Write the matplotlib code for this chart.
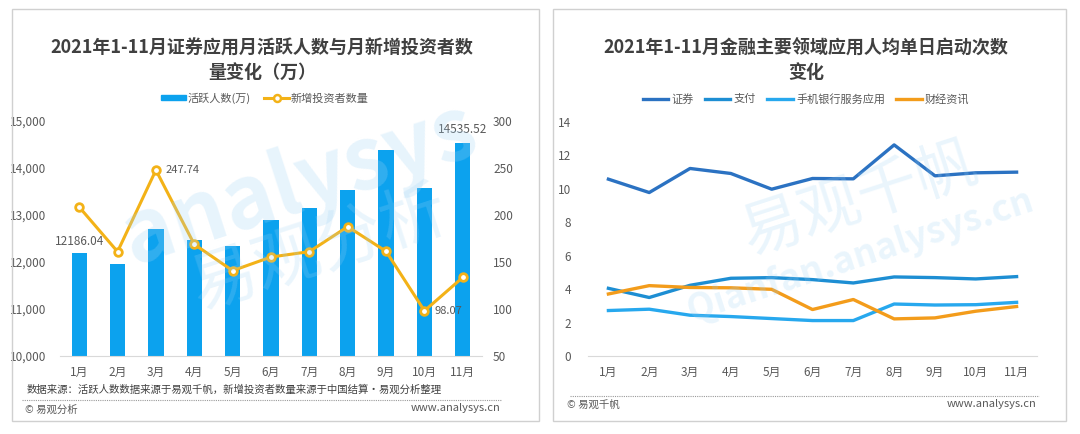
#!/usr/bin/env python
"""Two panel chart: securities app MAU vs new investors, and daily launches per user."""

import matplotlib
matplotlib.use("Agg")
import matplotlib.pyplot as plt
from matplotlib.patches import Rectangle
from matplotlib.lines import Line2D

plt.rcParams['font.family'] = ['Noto Sans CJK SC', 'DejaVu Sans']

months = ["1月", "2月", "3月", "4月", "5月", "6月", "7月", "8月", "9月", "10月", "11月"]

# left panel
active_users = [12186.04, 11960, 12700, 12470, 12340, 12890, 13150, 13530, 14380, 13570, 14535.52]
new_investors = [208.5, 161, 247.74, 168.8, 140.8, 155.3, 161, 187.6, 161.3, 98.07, 133.7]

# right panel
launch_series = {
    "证券": [10.58, 9.78, 11.22, 10.92, 9.98, 10.62, 10.6, 12.63, 10.78, 10.96, 11.0],
    "支付": [4.05, 3.5, 4.23, 4.65, 4.69, 4.57, 4.37, 4.73, 4.69, 4.61, 4.75],
    "手机银行服务应用": [2.72, 2.8, 2.44, 2.36, 2.24, 2.12, 2.12, 3.11, 3.05, 3.07, 3.21],
    "财经资讯": [3.71, 4.21, 4.1, 4.08, 3.99, 2.78, 3.38, 2.22, 2.28, 2.68, 2.96],
}
launch_colors = ["#2B72C2", "#1D8ED3", "#27A8EE", "#F39C1B"]

W, H = 1080, 434
TXT = "#595959"
BAR = "#0CA2EE"
GOLD = "#F3B217"


def fx(px):
    return px / W


def fy(py):
    return 1 - py / H


fig = plt.figure(figsize=(W / 100, H / 100), dpi=100)

# panel frames
for x0, x1 in [(12, 539), (553, 1066)]:
    fig.patches.append(Rectangle((fx(x0), fy(421)), fx(x1 - x0), (421 - 9) / H,
                                 transform=fig.transFigure, fill=False,
                                 edgecolor="#d0d0d0", linewidth=1.0))

# ---------------- left panel ----------------
ax = fig.add_axes([fx(60), fy(356), fx(422), 235 / H])
x = list(range(len(months)))
ax.bar(x, active_users, width=0.4, color=BAR, zorder=2, label="活跃人数(万)")
ax.set_ylim(10000, 15000)
ax.set_xlim(-0.5, len(months) - 0.5)
ax.set_yticks([10000, 11000, 12000, 13000, 14000, 15000])
ax.set_yticklabels([f"{v:,}" for v in [10000, 11000, 12000, 13000, 14000, 15000]])
ax.set_xticks(x)
ax.set_xticklabels(months)
for s in ["top", "left", "right"]:
    ax.spines[s].set_visible(False)
ax.spines["bottom"].set_color("#d9d9d9")
ax.tick_params(axis="both", length=0, labelsize=8.5, colors=TXT)
ax.tick_params(axis="y", pad=10)
ax.tick_params(axis="x", pad=7)
ax.patch.set_alpha(0)

ax2 = ax.twinx()
ax2.plot(x, new_investors, color=GOLD, linewidth=2.2, marker="o", markersize=5.5,
         markerfacecolor="white", markeredgecolor=GOLD, markeredgewidth=2, zorder=3,
         label="新增投资者数量")
ax2.set_ylim(50, 300)
ax2.set_yticks([50, 100, 150, 200, 250, 300])
for s in ["top", "left", "right", "bottom"]:
    ax2.spines[s].set_visible(False)
ax2.tick_params(axis="y", length=0, labelsize=8.5, colors=TXT, pad=8)

ax.annotate(f"{active_users[0]:.2f}", (0, active_users[0]), xytext=(0, 4),
            textcoords="offset points", ha="center", va="bottom", fontsize=8.5, color=TXT)
ax.annotate(f"{active_users[-1]:.2f}", (10, active_users[-1]), xytext=(0, 5),
            textcoords="offset points", ha="center", va="bottom", fontsize=8.5, color=TXT)
ax2.annotate(f"{new_investors[2]:.2f}", (2, new_investors[2]), xytext=(7, 0),
             textcoords="offset points", ha="left", va="center", fontsize=8, color=TXT)
ax2.annotate(f"{new_investors[9]:.2f}", (9, new_investors[9]), xytext=(7, 0),
             textcoords="offset points", ha="left", va="center", fontsize=8, color=TXT)

handles = [Rectangle((0, 0), 1, 1, color=BAR),
           Line2D([0], [0], color=GOLD, linewidth=2.2, marker="o", markersize=5,
                  markerfacecolor="white", markeredgewidth=1.8)]
fig.legend(handles, ["活跃人数(万)", "新增投资者数量"], loc="center",
           bbox_to_anchor=(fx(265), fy(98)), ncol=2, frameon=False, fontsize=8,
           handlelength=2.2, handleheight=0.35, handletextpad=0.2, columnspacing=1.2,
           labelcolor=TXT)

fig.text(fx(262), fy(48), "2021年1-11月证券应用月活跃人数与月新增投资者数",
         ha="center", va="center", fontsize=13, fontweight="bold", color="#404040")
fig.text(fx(262), fy(72), "量变化（万）", ha="center", va="center", fontsize=13,
         fontweight="bold", color="#404040")

fig.text(fx(27), fy(390), "数据来源：活跃人数数据来源于易观千帆，新增投资者数量来源于中国结算·易观分析整理",
         ha="left", va="center", fontsize=7.5, color="#404040")
fig.lines.append(Line2D([fx(22), fx(502)], [fy(400), fy(400)], transform=fig.transFigure,
                        color="#9a9a9a", linestyle=(0, (1, 1)), linewidth=0.8))
fig.text(fx(25), fy(410), "© 易观分析", ha="left", va="center", fontsize=7.5, color=TXT)
fig.text(fx(500), fy(408), "www.analysys.cn", ha="right", va="center", fontsize=8, color=TXT)

# watermark
fig.text(fx(300), fy(185), "analysys", ha="center", va="center", fontsize=62,
         fontweight="bold", color="#9fd3f5", alpha=0.25, rotation=18, zorder=0)
fig.text(fx(320), fy(250), "易观分析", ha="center", va="center", fontsize=48,
         color="#9fd3f5", alpha=0.22, rotation=18, zorder=0)

# ---------------- right panel ----------------
bx = fig.add_axes([fx(588), fy(356), fx(449), 234 / H])
for (name, vals), c in zip(launch_series.items(), launch_colors):
    bx.plot(x, vals, color=c, linewidth=2.4, label=name, zorder=3)
bx.set_ylim(0, 14)
bx.set_xlim(-0.5, len(months) - 0.5)
bx.set_yticks(range(0, 15, 2))
bx.set_xticks(x)
bx.set_xticklabels(months)
for s in ["top", "left", "right"]:
    bx.spines[s].set_visible(False)
bx.spines["bottom"].set_color("#d9d9d9")
bx.tick_params(axis="both", length=0, labelsize=8.5, colors=TXT)
bx.tick_params(axis="y", pad=12)
bx.tick_params(axis="x", pad=7)
bx.patch.set_alpha(0)
bx.legend(loc="center", bbox_to_anchor=(fx(806), fy(99)), bbox_transform=fig.transFigure,
          ncol=4, frameon=False, fontsize=8, handlelength=2.3, handletextpad=0.3,
          columnspacing=1.0, labelcolor=TXT)

fig.text(fx(806), fy(48), "2021年1-11月金融主要领域应用人均单日启动次数",
         ha="center", va="center", fontsize=13, fontweight="bold", color="#404040")
fig.text(fx(806), fy(72), "变化", ha="center", va="center", fontsize=13,
         fontweight="bold", color="#404040")

fig.lines.append(Line2D([fx(570), fx(1039)], [fy(396), fy(396)], transform=fig.transFigure,
                        color="#9a9a9a", linestyle=(0, (1, 1)), linewidth=0.8))
fig.text(fx(567), fy(405), "© 易观千帆", ha="left", va="center", fontsize=7.5, color=TXT)
fig.text(fx(1036), fy(404), "www.analysys.cn", ha="right", va="center", fontsize=8, color=TXT)

fig.text(fx(860), fy(200), "易观千帆", ha="center", va="center", fontsize=44,
         color="#9fd3f5", alpha=0.22, rotation=18, zorder=0)
fig.text(fx(860), fy(255), "Qianfan.analysys.cn", ha="center", va="center", fontsize=26,
         fontweight="bold", color="#9fd3f5", alpha=0.22, rotation=18, zorder=0)

fig.savefig("out.png", dpi=100)
